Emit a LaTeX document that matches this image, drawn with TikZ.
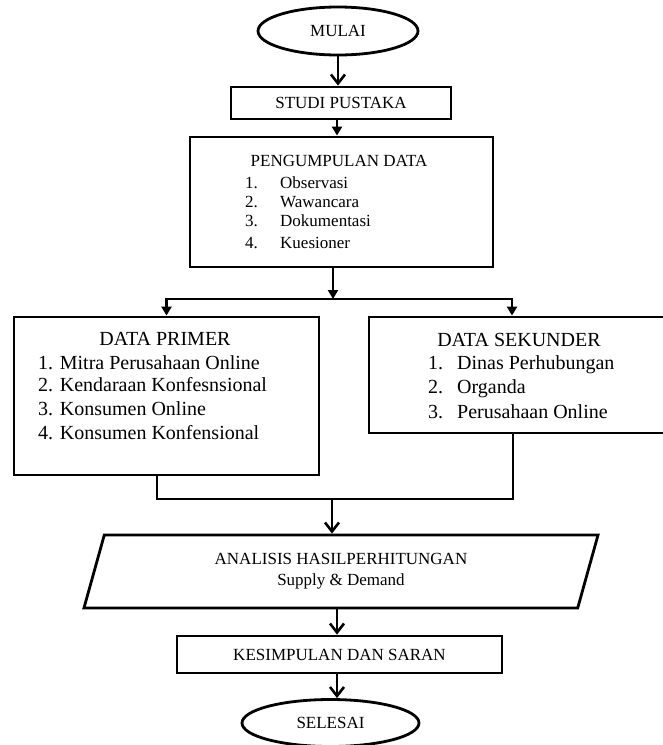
\documentclass[tikz,border=0pt]{standalone}
\usepackage{fontspec}
\setmainfont{Liberation Serif}
\usetikzlibrary{arrows.meta,shapes.geometric}

\tikzset{
  box/.style={draw, line width=2.8pt, inner sep=0pt, font=\fontsize{17}{21}\selectfont},
  oval/.style={ellipse, draw, line width=2.8pt, inner sep=0pt, font=\fontsize{17}{21}\selectfont},
  txt/.style={inner sep=0pt, font=\fontsize{17}{21}\selectfont},
  txtbig/.style={inner sep=0pt, font=\fontsize{20}{24}\selectfont},
  lin/.style={line width=2.6pt},
  arr/.style={line width=2.6pt, -{Straight Barb[length=9pt,width=14pt,line width=2.6pt]}},
  arrtri/.style={line width=2.6pt, -{Triangle[length=9pt,width=10pt]}},
}

\begin{document}
\begin{tikzpicture}[x=1pt,y=1pt,yscale=-1]
\useasboundingbox (0,0) rectangle (662,745);

%Shape: Ellipse
\node[oval, minimum width=160pt, minimum height=48pt] (mulai) at (338,31) {MULAI};
%Shape: Rectangle
\node[box, minimum width=220pt, minimum height=32pt] (studi) at (341,103) {STUDI PUSTAKA};
%Shape: Rectangle
\node[box, minimum width=303pt, minimum height=130pt] (kumpul) at (341.5,202) {};
\node[txt, anchor=base] (kumpulT) at (339,166.5) {PENGUMPULAN DATA};
\foreach \n/\t/\y in {1/Observasi/183,2/Wawancara/202,3/Dokumentasi/221,4/Kuesioner/243}{
  \node[txt, anchor=base west] (kumpulN\n) at (245,\y+5) {\n.};
  \node[txt, anchor=base west] (kumpulI\n) at (280,\y+5) {\t};
}

%Shape: Rectangle
\node[box, minimum width=305pt, minimum height=158pt] (primer) at (166.5,396) {};
\node[txtbig, anchor=base] (primerT) at (165,345) {DATA PRIMER};
\foreach \n/\t/\y in {1/Mitra Perusahaan Online/363,2/Kendaraan Konfesnsional/385,3/Konsumen Online/409,4/Konsumen Konfensional/433}{
  \node[txtbig, anchor=base west] (primerI\n) at (38,\y+6.5) {\n. \t};
}

%Shape: Rectangle
\node[box, minimum width=295pt, minimum height=116pt] (sekunder) at (516.5,375) {};
\node[txtbig, anchor=base] (sekunderT) at (519,346) {DATA SEKUNDER};
\foreach \n/\t/\y in {1/Dinas Perhubungan/363,2/Organda/387,3/Perusahaan Online/412}{
  \node[txtbig, anchor=base west] (sekunderN\n) at (428,\y+6.5) {\n.};
  \node[txtbig, anchor=base west] (sekunderI\n) at (457,\y+6.5) {\t};
}

%Shape: Parallelogram
\node[box, trapezium, trapezium left angle=73.2, trapezium right angle=106.8, trapezium stretches=true,
  minimum width=516pt, minimum height=73pt, align=center] (analisis) at (341,571.5)
  {ANALISIS HASILPERHITUNGAN\\Supply \& Demand};
%Shape: Rectangle
\node[box, minimum width=325pt, minimum height=37pt] (kesimpulan) at (339.5,654.5) {KESIMPULAN DAN SARAN};
%Shape: Ellipse
\node[oval, minimum width=177pt, minimum height=47pt] (selesai) at (330.5,723) {SELESAI};

%Connectors
\coordinate (axis) at (337,0);
\coordinate (split) at (333,299);
\coordinate (joinL) at (157,499);
\coordinate (joinR) at (513,499);
\coordinate (join) at (332,499);

\draw[arr] (mulai.south) -- (mulai.south |- studi.north);
\draw[arrtri] (studi.south -| axis) -- (kumpul.north -| axis);
\draw[arrtri] (kumpul.south -| split) -- (split);
\draw[arrtri] (split) -| (primer.north);
\draw[arrtri] (split) -| ([xshift=-4.5pt]sekunder.north);
\draw[lin] (primer.south -| joinL) |- (joinR) -- (sekunder.south -| joinR);
\draw[arr] (join) -- (join |- analisis.north);
\draw[arr] (analisis.south -| axis) -- (kesimpulan.north -| axis);
\draw[arr] (kesimpulan.south -| axis) -- (selesai.north -| axis);

\end{tikzpicture}
\end{document}
